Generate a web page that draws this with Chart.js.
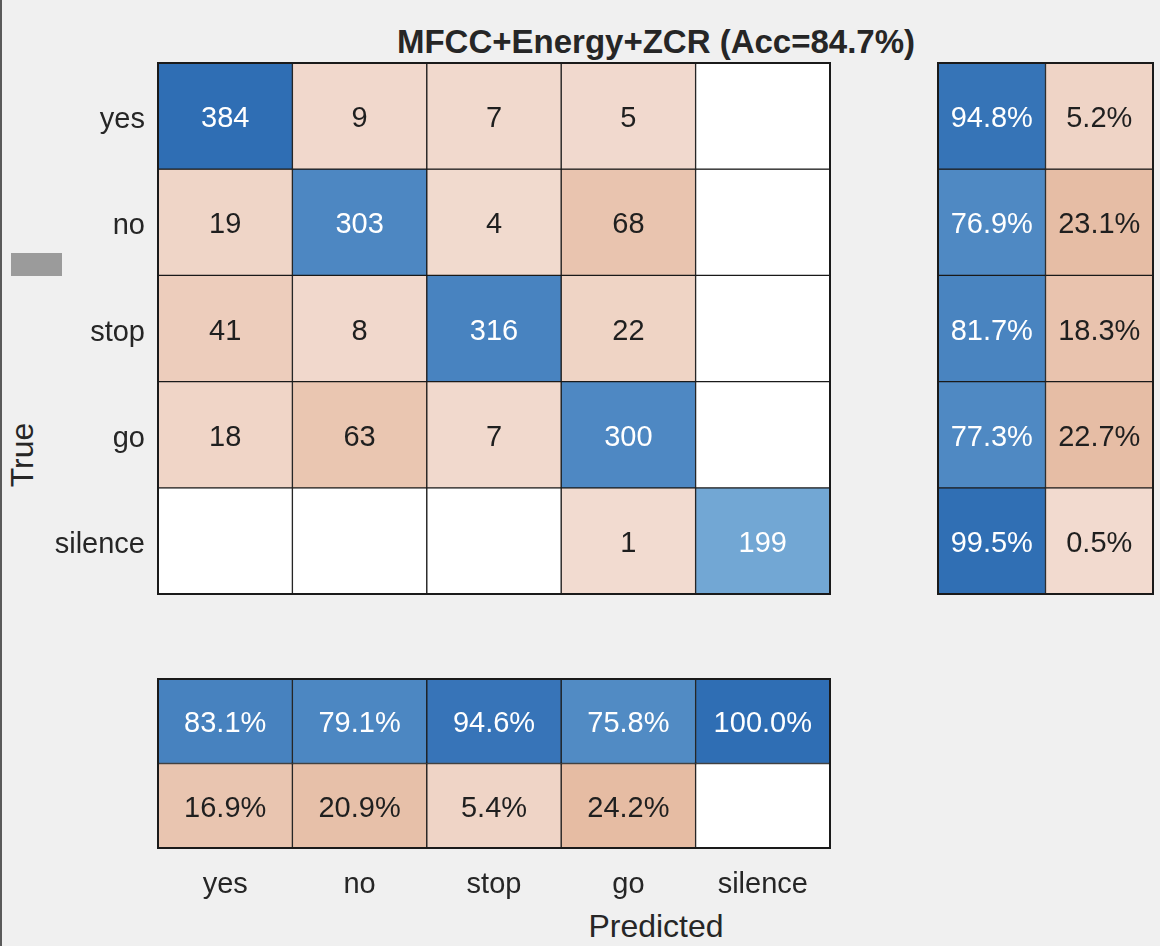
<!DOCTYPE html>
<html><head><meta charset="utf-8">
<script src="https://cdn.jsdelivr.net/npm/chart.js@4.4.1/dist/chart.umd.min.js"></script>
<style>
html,body{margin:0;padding:0;background:#f0f0f0;}
body{width:1160px;height:946px;position:relative;overflow:hidden;font-family:"Liberation Sans",Arial,sans-serif;color:#262626;}
.leftline{position:absolute;left:0;top:0;width:2px;height:946px;background:#5a5a5a;}
.graybox{position:absolute;left:11px;top:253px;width:51px;height:23px;background:#9b9b9b;}
canvas{position:absolute;}
#title{position:absolute;left:356px;width:600px;top:22px;height:40px;line-height:40px;text-align:center;font-weight:bold;font-size:33px;}
#xlab{position:absolute;left:456px;width:400px;top:906px;height:40px;line-height:40px;text-align:center;font-size:32px;}
#ylab{position:absolute;left:-78px;top:435px;width:200px;height:40px;line-height:40px;text-align:center;font-size:32px;transform:rotate(-90deg);}
</style>
</head>
<body>
<div class="leftline"></div>
<div class="graybox"></div>
<div id="title">MFCC+Energy+ZCR (Acc=84.7%)</div>
<div id="xlab">Predicted</div>
<div id="ylab">True</div>
<canvas id="main" width="900" height="620" style="left:0;top:0;"></canvas>
<canvas id="right" width="230" height="620" style="left:930px;top:0;"></canvas>
<canvas id="bottom" width="900" height="306" style="left:0;top:640px;"></canvas>
<script>
// ---- data ----
const classes = ['yes', 'no', 'stop', 'go', 'silence'];
const trueYes     = [384, 9, 7, 5, 0];
const trueNo      = [19, 303, 4, 68, 0];
const trueStop    = [41, 8, 316, 22, 0];
const trueGo      = [18, 63, 7, 300, 0];
const trueSilence = [0, 0, 0, 1, 199];
const rowCorrect   = [94.8, 76.9, 81.7, 77.3, 99.5];
const rowIncorrect = [5.2, 23.1, 18.3, 22.7, 0.5];
const colCorrect   = [83.1, 79.1, 94.6, 75.8, 100.0];
const colIncorrect = [16.9, 20.9, 5.4, 24.2, 0];

const matrix = [trueYes, trueNo, trueStop, trueGo, trueSilence];
const maxCount = Math.max(...matrix.flat());

// ---- colours ----
function mix(a, b, t) {
  t = Math.max(0, Math.min(1, t));
  return 'rgb(' + a.map((v, i) => Math.round(v + (b[i] - v) * t)).join(',') + ')';
}
const BLUE_LO = [187, 229, 247], BLUE_HI = [47, 110, 180];
const ORG_LO = [242, 219, 208], ORG_HI = [191, 89, 20];
const blue = f => mix(BLUE_LO, BLUE_HI, f);
const orange = f => mix(ORG_LO, ORG_HI, f);

Chart.defaults.font.family = '"Liberation Sans", Arial, sans-serif';
Chart.defaults.color = '#262626';
Chart.defaults.animation = false;

const cellLabels = {
  id: 'cellLabels',
  afterDatasetsDraw(chart) {
    const ctx = chart.ctx;
    ctx.save();
    ctx.font = '29px "Liberation Sans", Arial, sans-serif';
    ctx.textAlign = 'center';
    ctx.textBaseline = 'middle';
    chart.data.datasets.forEach((ds, di) => {
      const meta = chart.getDatasetMeta(di);
      meta.data.forEach((el, i) => {
        const txt = ds.texts[i];
        if (!txt) return;
        const p = el.getProps(['x', 'y', 'base'], true);
        ctx.fillStyle = ds.textColors[i];
        ctx.fillText(txt, p.x, (p.y + p.base) / 2 + 3);
      });
    });
    ctx.restore();
  },
  afterDraw(chart) {
    const a = chart.chartArea, ctx = chart.ctx;
    ctx.save();
    ctx.strokeStyle = '#1a1a1a';
    ctx.lineWidth = 2;
    ctx.strokeRect(a.left, a.top, a.right - a.left, a.bottom - a.top);
    ctx.restore();
  }
};

function cellDataset(r, values, colorFns, textFn) {
  return {
    data: values.map(() => [r - 0.5, r + 0.5]),
    backgroundColor: values.map((v, c) => v === 0 ? '#ffffff' : colorFns[c](v)),
    texts: values.map(v => v === 0 ? '' : textFn(v)),
    textColors: values.map((v, c) => colorFns[c].isBlue ? '#ffffff' : '#1f1f1f'),
    borderColor: '#1a1a1a',
    borderWidth: 1,
    borderSkipped: false,
    grouped: false,
    barPercentage: 1,
    categoryPercentage: 1
  };
}
function mk(fn, isBlue) { fn.isBlue = isBlue; return fn; }

function rowScale(n, show, widthFix) {
  return {
    type: 'linear', reverse: true, min: -0.5, max: n - 0.5,
    display: show,
    grid: { display: false }, border: { display: false },
    afterBuildTicks: s => { s.ticks = Array.from({ length: n }, (_, i) => ({ value: i })); },
    afterFit: s => { if (widthFix) s.width = widthFix; },
    ticks: { padding: 5, labelOffset: 4, font: { size: 29 }, color: '#262626',
      callback: v => classes[v] !== undefined ? classes[v] : '' }
  };
}

// main matrix
new Chart(document.getElementById('main'), {
  type: 'bar',
  data: {
    labels: classes,
    datasets: matrix.map((row, r) => cellDataset(r, row,
      row.map((_, c) => c === r ? mk(v => blue(v / maxCount), true) : mk(v => orange(v / maxCount), false)),
      v => String(v)))
  },
  options: {
    responsive: false, devicePixelRatio: 1,
    layout: { padding: { left: 0, right: 70, top: 63, bottom: 26 } },
    plugins: { legend: { display: false }, tooltip: { enabled: false } },
    scales: {
      x: { type: 'category', display: false, grid: { display: false } },
      y: rowScale(5, true, 158)
    }
  },
  plugins: [cellLabels]
});

// row summary
new Chart(document.getElementById('right'), {
  type: 'bar',
  data: {
    labels: ['correct', 'incorrect'],
    datasets: classes.map((_, r) => cellDataset(r, [rowCorrect[r], rowIncorrect[r]],
      [mk(v => blue(v / 100), true), mk(v => orange(v / 100), false)],
      v => v.toFixed(1) + '%'))
  },
  options: {
    responsive: false, devicePixelRatio: 1,
    layout: { padding: { left: 8, right: 7, top: 63, bottom: 26 } },
    plugins: { legend: { display: false }, tooltip: { enabled: false } },
    scales: {
      x: { type: 'category', display: false },
      y: rowScale(5, false, 0)
    }
  },
  plugins: [cellLabels]
});

// column summary
const colRows = [colCorrect, colIncorrect];
new Chart(document.getElementById('bottom'), {
  type: 'bar',
  data: {
    labels: classes,
    datasets: colRows.map((row, r) => cellDataset(r, row,
      row.map(() => r === 0 ? mk(v => blue(v / 100), true) : mk(v => orange(v / 100), false)),
      v => v.toFixed(1) + '%'))
  },
  options: {
    responsive: false, devicePixelRatio: 1,
    layout: { padding: { left: 158, right: 70, top: 39, bottom: 0 } },
    plugins: { legend: { display: false }, tooltip: { enabled: false } },
    scales: {
      x: { type: 'category', grid: { display: false }, border: { display: false },
        afterFit: s => { s.height = 98; },
        ticks: { padding: 12, font: { size: 29 }, color: '#262626', maxRotation: 0 } },
      y: rowScale(2, false, 0)
    }
  },
  plugins: [cellLabels]
});
</script>
</body></html>
